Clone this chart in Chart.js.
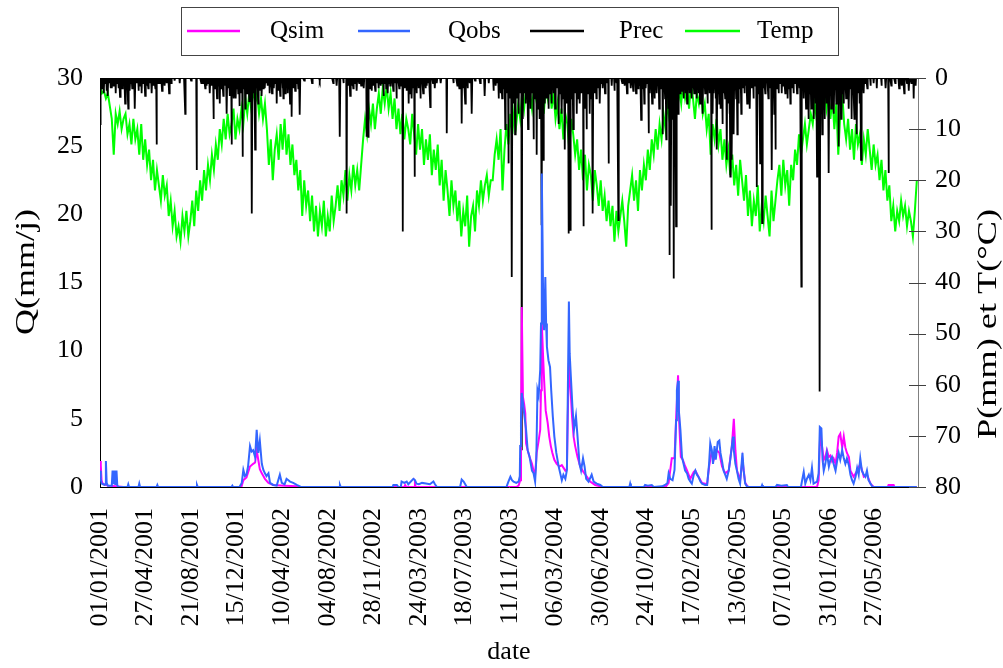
<!DOCTYPE html>
<html>
<head>
<meta charset="utf-8">
<script src="https://cdn.jsdelivr.net/npm/chart.js@4.4.0/dist/chart.umd.min.js"></script>
<style>
html,body{margin:0;padding:0;background:#fff;}
#wrap{width:1003px;height:668px;}
</style>
</head>
<body>
<div id="wrap"><canvas id="c" width="1003" height="668"></canvas></div>
<script>
// ---------- DATA ----------
const tickLabels = ['01/01/2001','27/04/2001','21/08/2001','15/12/2001','10/04/2002','04/08/2002','28/11/2002','24/03/2003','18/07/2003','11/11/2003','06/03/2004','30/06/2004','24/10/2004','17/02/2005','13/06/2005','07/10/2005','31/01/2006','27/05/2006'];
const tickStepDays = 116;
const lastDay = 2083;
const tempStepDays = 5;

// Temperature (°C), one value every 5 days starting 01/01/2001
const tempC = [
1.5,3,2.5,4,3,5.5,8,15,7,9,6.5,10,8,7,11,9,13,8,12,10,
15,9,16,12,17,14,20,16,22,18,21,24,19,23,21,27,24,29,26,31,
29,32,27,30,26,31,28,24,29,22,26,20,24,18,22,17,20,15,18,13,
16,10,13,8,12,7,11,9,6,12,8,10,6,9,4,7,3,6,2,5,
3,7,4,8,5,10,17,12,20,14,11,16,9,14,8,15,11,17,13,19,
16,22,18,27,20,25,22,28,23,30,25,31,26,29,24,31,27,30,23,28,
25,21,26,20,23,18,24,19,22,17,21,18,22,17,12,8,11,6,9,5,
10,6,3,7,2,5,1.5,6,3,8,4,10,6,11,7,12,8,10,13,7,
11,15,9,14,10,17,12,16,11,19,14,18,13,21,16,24,18,22,27,20,
25,22,28,24,31,26,29,23,33,27,25,30,22,25,20,24,21,19,23,20,
20,15,12,16,10,22,14,9,13,7,11,6,9,5,8,3,6,2,5,3,
6,2,4,1,5,3,7,2,4,0.5,6,3,8,5,10,6,12,7,9,14,
8,11,15,12,18,14,20,15,22,17,19,24,18,21,25,20,26,23,28,24,
29,25,32,26,30,27,24,28,33,25,22,19,24,20,26,18,22,17,20,14,
18,12,15,10,14,9,12,7,10,5,8,4,6,3,7,2,5,0.5,4,2,
6,1,4,8,3,5,2,7,5,10,7,15,9,12,8,13,10,16,12,17,
14,19,15,21,17,23,16,20,24,19,27,22,29,24,27,21,30,25,28,23,
27,31,22,28,24,20,17,23,16,21,18,25,17,20,14,17,11,15,12,9,
13,10,7,9,5,8,3,0.5,4,2,6,3,8,4,10,5,15,7,3,9,
12,8,14,10,16,9,13,11,17,12,15,10,14,18,13,17,15,20,16,22,
18,24,21,28,25,30,26,28,24,27,25,29,26,28,31,26,20
];

// Rainy days: [day index, mm]; all other days are dry (0 mm)
const precRain = [
[0,9],[3,2],[6,1.5],[10,3],[13,1],[17,2.5],[20,3.5],[24,1],[27,2],[30,2],[34,1.5],[40,3],[44,1],[47,2],[51,3.7],[54,1.5],[57,2],[61,1],[64,5],[68,2],[72,6],[76,2.5],[79,1],[82,2],[86,1.5],[89,6],[93,1],[98,2.5],[102,1.5],[106,3],[110,1],[115,3.5],[119,1.5],[123,2],[127,1],[132,3],[137,1.5],[141,2],[144,13],[148,1],[153,1],[158,2.5],[162,1],[165,1.5],[170,1],[176,3],[181,1],[190,0.5],[203,1],[217,7],[232,0.5],[246,18],[258,1],[263,1],[268,2],[272,1.5],[276,1],[280,3],[284,1.5],[289,8],[293,2],[298,4],[301,1.5],[305,5],[309,2],[314,3.5],[318,1.5],[323,7],[327,2],[331,3.5],[335,13],[339,2],[341,4],[344,1.5],[346,4],[349,2],[352,3],[355,5.5],[358,3],[363,15.4],[367,2],[370,6],[373,1.5],[375,3],[378,1.5],[380,4.5],[384,2],[387,26.5],[391,3],[395,14],[399,2],[403,5],[407,2.5],[409,1],[412,3.5],[416,2],[420,2],[424,1],[427,1.5],[432,3],[435,1],[438,3],[443,2],[446,1],[450,5],[455,2.5],[459,3.5],[462,1],[465,2],[467,4],[472,3],[475,1],[478,3],[481,1.5],[484,5],[488,7.6],[493,2],[497,2.5],[502,1],[505,2],[509,7.2],[520,0.5],[540,1],[560,0.5],[594,1],[603,1.5],[611,11.5],[620,1],[628,26.5],[633,1.5],[637,3.5],[641,1.5],[645,2],[650,1],[654,2.5],[660,1],[665,1.5],[672,2],[679,11.5],[683,11.5],[688,2],[692,2.5],[697,1.5],[701,2.5],[705,1],[710,2],[715,1.5],[719,1],[722,3.5],[726,1],[729,2],[733,3],[736,1],[739,1.5],[743,1],[747,2.5],[751,1],[755,4],[758,1],[762,2],[767,1.5],[771,30],[776,2],[781,2.5],[783,1],[786,5],[790,3],[794,4],[797,2],[801,19.3],[806,3],[811,2],[816,4],[819,1],[823,3],[829,2],[832,1.5],[837,1],[841,5.7],[848,1],[853,2],[858,1],[868,1],[883,10.8],[900,1],[910,1.5],[915,2],[921,8.9],[926,2],[930,5],[936,2],[941,1],[947,7],[955,0.5],[968,1],[980,3.5],[990,1],[1002,2.5],[1008,1.5],[1012,1],[1015,4],[1018,1.5],
[1021,3],[1024,4],[1027,2],[1030,1],[1032,10],[1036,3],[1040,16.7],[1043,4],[1046,2],[1049,38.9],[1053,5],[1055,2],[1057,11],[1059,2],[1061,4],[1064,1.5],[1066,7],[1069,3],[1074,72.8],[1077,8],[1079,2],[1081,3],[1084,5],[1087,2],[1090,10],[1092,2],[1094,4],[1097,6],[1100,3],[1102,1.5],[1104,12],[1106,2],[1108,4],[1110,2],[1112,15],[1114,3],[1116,6],[1119,8],[1122,3],[1125,28.8],[1127,4],[1129,16],[1131,2],[1133,5],[1136,2],[1138,4],[1140,1.5],[1142,6],[1144,2],[1146,3],[1148,1],[1150,5],[1153,2],[1155,3],[1157,1.5],[1159,6],[1163,2],[1165,1],[1168,9],[1170,2],[1172,3],[1174,1],[1176,7],[1178,2],[1180,4],[1182,1.5],[1184,14],[1186,2],[1188,5],[1190,2],[1193,30.4],[1195,3],[1197,29.7],[1200,4],[1202,2],[1205,10],[1207,2],[1209,3],[1212,1.5],[1214,7],[1216,2],[1218,4],[1220,1.5],[1222,5],[1224,2],[1226,3],[1228,1],[1231,29],[1233,3],[1235,6],[1237,2],[1239,10],[1241,2],[1243,3],[1245,1],[1247,7],[1249,2],[1251,4],[1253,2],[1255,26.5],[1257,2],[1259,3],[1262,1],[1264,4],[1268,2],[1273,5],[1276,1],[1280,2],[1286,3],[1290,1],[1295,16.7],[1303,1.5],[1310,2.5],[1315,1],[1320,27.8],[1330,1],[1336,1.5],[1342,3],[1347,1],[1352,2],[1358,2.5],[1361,1],
[1365,3],[1370,2],[1374,1.5],[1378,8.2],[1381,2],[1384,1],[1386,5],[1390,2],[1393,1],[1397,10.8],[1400,3],[1403,1.5],[1406,5],[1409,2],[1412,4],[1415,1.5],[1418,3],[1421,1],[1424,6],[1427,2],[1430,1],[1433,11],[1436,2],[1439,4],[1442,12],[1445,3],[1448,6],[1450,34.6],[1452,5],[1454,25],[1457,8],[1459,3],[1461,39.2],[1464,4],[1467,29],[1469,3],[1472,7],[1474,2],[1477,3],[1480,1.5],[1483,2.5],[1486,4],[1489,1],[1492,3],[1495,5],[1498,2],[1501,3],[1504,1.5],[1507,4],[1510,2],[1513,3],[1516,1],[1519,4],[1522,2],[1525,3],[1528,5],[1531,1.5],[1535,7],[1538,2],[1541,3],[1544,1],[1547,5],[1550,2],[1553,3],[1557,29.7],[1560,7],[1563,3],[1566,2],[1568,4],[1571,14],[1574,3],[1577,5],[1580,6],[1582,2],[1585,9],[1588,3],[1592,4],[1594,2],[1596,16],[1598,5],[1601,3],[1603,7],[1605,19.3],[1607,4],[1609,16],[1612,3],[1614,11],[1617,2],[1620,4],[1623,11],[1626,5],[1630,2],[1633,7],[1637,2],[1641,3],[1645,1.5],[1648,5],[1652,2],[1655,6],[1660,2],[1664,4],[1668,1.5],[1673,21.3],[1676,3],[1681,16.7],[1684,3],[1686,28.4],[1690,2],[1694,3],[1698,1],[1702,4],[1706,2],
[1711,18],[1714,3],[1717,7],[1720,14],[1724,2],[1728,3],[1732,1],[1736,3],[1740,1.5],[1745,3],[1748,1],[1751,4],[1755,2],[1758,5],[1762,2],[1766,3],[1770,1],[1775,3],[1778,1],[1782,2],[1786,40.8],[1789,2],[1792,4],[1795,1.5],[1798,6],[1801,2],[1805,8],[1808,3],[1811,6],[1814,2],[1817,8],[1820,3],[1823,5],[1826,19.3],[1829,4],[1831,8],[1833,61.3],[1836,4],[1839,11],[1842,3],[1845,8],[1848,2],[1851,5],[1853,3],[1856,18.6],[1859,3],[1862,6],[1865,2],[1869,7],[1872,2],[1875,5],[1878,3],[1881,13.4],[1884,2],[1887,8],[1890,3],[1894,5],[1897,2],[1900,4],[1903,2],[1907,6],[1910,2],[1914,8],[1917,3],[1921,8],[1924,2],[1927,11],[1930,3],[1934,5],[1938,16],[1941,2],[1945,3],[1949,1],[1954,2],[1962,1.5],[1970,1],[1978,2],[1990,1.5],[2001,2],[2008,18.6],[2015,1.5],[2025,1],[2035,2],[2042,1.5],[2048,3],[2055,1],[2060,2.5],[2066,1],[2072,4],[2077,1.5]
];

// Observed discharge (mm/j): [day index, value]
const qobsPts = [
[0,1.2],[2,0.6],[4,0.25],[8,0.2],[12,0.15],[14,0.2],[15,1.9],[17,0.3],[20,0.1],[30,0.1],[32,1.2],[34,0.2],[37,1.2],[39,0.15],[42,1.2],[44,0.1],[48,0],[70,0],[72,0.2],[74,0],[98,0],[100,0.25],[102,0],[144,0],[146,0.15],[148,0],[245,0],[247,0.15],[249,0],[335,0],[337,0.1],[339,0],
[355,0],[361,0.3],[365,1.25],[369,0.8],[373,0.9],[377,1.5],[382,3.0],[386,2.6],[390,2.7],[395,2.2],[399,4.2],[403,2.5],[407,3.4],[412,1.7],[416,1.25],[420,1.0],[424,0.8],[429,1.0],[433,0.3],[441,0.15],[450,0.1],[458,0.9],[463,0.3],[470,0.2],[475,0.6],[484,0.4],[492,0.3],[501,0.15],[509,0.05],[512,0],[609,0],[611,0.15],[613,0],
[745,0],[747,0.15],[756,0.15],[760,0],[766,0],[768,0.4],[775,0.3],[781,0.4],[785,0.2],[798,0.6],[802,0.5],[806,0.25],[812,0.2],[820,0.3],[830,0.25],[840,0.2],[849,0.4],[853,0.2],[858,0],[917,0],[921,0.55],[926,0.4],[930,0.2],[934,0],
[1035,0],[1040,0.4],[1045,0.75],[1049,0.5],[1053,0.4],[1060,0.3],[1066,0.4],[1069,0.8],[1070,3.0],[1072,5.0],[1074,6.9],[1077,6.2],[1080,5.4],[1085,4.2],[1089,2.7],[1094,2.2],[1100,1.2],[1104,1.0],[1108,0.4],[1111,2.0],[1114,7.1],[1117,6.7],[1121,8.6],[1123,12],[1125,23],[1127,18],[1129,12],[1131,11.5],[1134,15.4],[1136,12],[1138,10.3],[1142,9.3],[1146,8.8],[1149,7.1],[1153,5.2],[1157,3.7],[1162,2.5],[1168,1.5],[1172,1.0],[1176,0.5],[1180,0.9],[1185,0.6],[1189,1.25],[1191,6.1],[1194,13.6],[1196,9.8],[1199,8.1],[1203,5.9],[1207,4.2],[1212,5.2],[1216,3.7],[1221,1.7],[1225,1.2],[1230,2.1],[1234,1.5],[1238,0.6],[1244,0.4],[1252,0.9],[1257,0.4],[1265,0.25],[1274,0.15],[1280,0],[1348,0],[1350,0.25],[1352,0],
[1385,0],[1388,0.15],[1395,0.1],[1405,0.15],[1410,0],[1431,0.05],[1439,0.15],[1445,0.3],[1448,1.0],[1452,0.6],[1458,0.5],[1463,1.25],[1467,4.9],[1469,7.1],[1472,7.8],[1474,5.6],[1478,4.2],[1482,2.2],[1486,1.7],[1490,1.2],[1495,1.0],[1499,0.6],[1503,0.4],[1507,0.25],[1512,0.9],[1516,1.2],[1520,0.9],[1524,0.75],[1529,0.4],[1533,0.25],[1541,0.15],[1546,0.15],[1551,1.7],[1554,3.2],[1558,2.7],[1561,1.7],[1565,3.0],[1568,2.0],[1573,3.3],[1577,3.4],[1580,2.5],[1584,1.9],[1588,1.2],[1592,0.9],[1596,0.6],[1601,1.2],[1605,2.0],[1609,3.0],[1612,3.7],[1614,2.7],[1618,1.7],[1622,1.2],[1626,0.6],[1630,0.25],[1636,2.5],[1639,1.2],[1643,0.25],[1647,0.05],[1652,0],[1684,0],[1686,0.15],[1688,0],
[1720,0],[1724,0.15],[1735,0.1],[1749,0.15],[1752,0],[1785,0],[1788,0.5],[1792,1.1],[1796,0.25],[1800,0.6],[1805,0.9],[1809,0.5],[1813,1.4],[1817,0.25],[1826,0.4],[1830,1.0],[1833,4.4],[1837,4.3],[1840,2.0],[1843,1.2],[1847,1.7],[1851,2.5],[1856,1.5],[1860,2.0],[1864,2.2],[1868,1.7],[1873,1.2],[1877,1.9],[1881,2.5],[1885,2.0],[1890,2.7],[1894,2.1],[1898,1.7],[1902,2.1],[1907,1.6],[1911,0.9],[1915,0.5],[1919,0.25],[1924,0.75],[1928,1.4],[1932,0.9],[1936,2.1],[1940,1.2],[1945,0.9],[1949,0.75],[1953,1.2],[1957,0.5],[1962,0.25],[1966,0.05],[1970,0],[2080,0]
];

// Simulated discharge (mm/j): [day index, value]
const qsimPts = [
[0,1.9],[2,1.6],[4,0.5],[6,0.3],[10,0.2],[20,0.1],[40,0.05],[60,0],
[360,0],[365,0.5],[373,0.7],[382,1.5],[390,1.7],[395,1.8],[399,2.7],[403,2.0],[407,1.3],[412,1.0],[416,0.8],[420,0.6],[429,0.3],[441,0.15],[470,0.1],[501,0.05],[509,0],
[775,0],[777,0.15],[780,0],[800,0],[802,0.2],[804,0],
[1060,0],[1066,0.1],[1070,0.5],[1072,3.0],[1074,13.2],[1077,6.6],[1080,6.1],[1083,5.4],[1085,3.2],[1089,2.7],[1094,2.2],[1100,1.7],[1104,1.2],[1108,0.9],[1112,2.5],[1117,3.4],[1121,4.2],[1123,7.1],[1125,12],[1128,9.8],[1131,7.8],[1135,5.6],[1140,4.7],[1144,3.7],[1148,3.0],[1152,2.5],[1157,2.0],[1163,1.7],[1170,1.5],[1176,1.6],[1185,1.2],[1189,1.3],[1191,4.9],[1194,9.1],[1197,7.8],[1202,5.2],[1206,3.7],[1210,3.0],[1216,2.2],[1223,1.5],[1231,1.1],[1240,0.75],[1248,0.4],[1261,0.15],[1274,0.05],[1280,0],
[1440,0],[1448,0.3],[1456,2.1],[1463,2.1],[1467,5.0],[1472,8.2],[1475,4.7],[1479,2.2],[1484,2.0],[1489,1.6],[1495,1.2],[1503,0.6],[1512,1.1],[1516,1.2],[1524,0.75],[1533,0.3],[1546,0.2],[1551,1.5],[1557,2.5],[1563,2.0],[1571,2.7],[1577,2.5],[1584,1.5],[1592,1.0],[1601,1.2],[1609,3.0],[1614,5.0],[1618,2.7],[1622,1.2],[1630,0.5],[1636,2.0],[1643,0.3],[1650,0],
[1826,0],[1830,0.5],[1834,3.9],[1839,2.9],[1843,2.0],[1847,2.2],[1851,2.7],[1856,2.2],[1860,2.3],[1864,1.9],[1868,2.1],[1873,1.7],[1877,2.5],[1881,3.7],[1885,3.9],[1890,2.9],[1894,3.7],[1898,2.9],[1902,2.5],[1907,2.2],[1911,1.2],[1919,0.75],[1928,1.2],[1936,1.7],[1945,0.75],[1953,0.9],[1962,0.25],[1970,0],[2006,0],[2008,0.15],[2021,0.15],[2023,0],[2080,0]
];

// ---------- BUILD ----------
const nDays = (tempC.length - 1) * tempStepDays + 1;
const precDaily = new Array(nDays).fill(0);
precRain.forEach(([d, mm]) => { precDaily[d] = mm; });
const precData = precDaily.map((v, d) => ({x: d, y: v}));
const tempData = tempC.map((v, i) => ({x: i * tempStepDays, y: v}));
const qobsData = qobsPts.map(([d, v]) => ({x: d, y: v}));
const qsimData = qsimPts.map(([d, v]) => ({x: d, y: v}));
const tickDays = tickLabels.map((_, i) => i * tickStepDays);

const SERIF = "'Liberation Serif', 'Times New Roman', serif";
Chart.defaults.font.family = SERIF;
Chart.defaults.color = '#000';

// text centred at (x,y), rotated, stretched along its direction to a target length
function stretchedText(ctx, text, x, y, rot, size, targetLen) {
  ctx.save();
  ctx.translate(x, y);
  ctx.rotate(rot);
  ctx.font = size + 'px ' + SERIF;
  const w = ctx.measureText(text).width;
  const sx = targetLen ? targetLen / w : 1;
  ctx.scale(sx, 1);
  ctx.fillStyle = '#000';
  ctx.textAlign = 'center';
  ctx.textBaseline = 'middle';
  ctx.fillText(text, 0, 0);
  ctx.restore();
}

const decor = {
  id: 'decor',
  beforeDatasetsDraw(chart) {
    const {ctx, chartArea: a} = chart;
    ctx.save();
    ctx.strokeStyle = '#000';
    ctx.lineWidth = 1;
    ctx.beginPath();
    ctx.moveTo(a.left, a.top + 0.5);
    ctx.lineTo(a.right, a.top + 0.5);
    ctx.stroke();
    ctx.restore();
  },
  afterDraw(chart) {
    const {ctx, chartArea: a} = chart;
    const s2 = chart.scales.y2;
    ctx.save();
    ctx.strokeStyle = '#404040';
    ctx.lineWidth = 1;
    s2.ticks.forEach(t => {
      const y = Math.round(s2.getPixelForValue(t.value)) + 0.5;
      ctx.beginPath();
      ctx.moveTo(a.right - 9, y);
      ctx.lineTo(a.right + 8, y);
      ctx.stroke();
    });
    ctx.restore();
    // axis titles
    stretchedText(ctx, 'Q(mm/j)', 27, 272, -Math.PI / 2, 27, 126);
    stretchedText(ctx, 'P(mm) et T(°C)', 989, 324, -Math.PI / 2, 27, 230);
    stretchedText(ctx, 'date', 509, 652, 0, 26, 0);
    // legend
    ctx.save();
    ctx.fillStyle = '#fff';
    ctx.fillRect(181, 7, 657, 48);
    ctx.strokeStyle = '#444';
    ctx.lineWidth = 1;
    ctx.strokeRect(181.5, 7.5, 657, 48);
    const lineX = [[187, 240], [358, 410], [530, 584], [685, 740]];
    const textX = [270, 448, 619, 757];
    const ly = 31;
    [0, 1, 2, 3].forEach((di, k) => {
      const ds = chart.data.datasets[di];
      ctx.strokeStyle = ds.borderColor;
      ctx.lineWidth = 2.5;
      ctx.beginPath();
      ctx.moveTo(lineX[k][0], ly);
      ctx.lineTo(lineX[k][1], ly);
      ctx.stroke();
      ctx.fillStyle = '#000';
      ctx.font = '25px ' + SERIF;
      ctx.textAlign = 'left';
      ctx.textBaseline = 'middle';
      ctx.fillText(ds.label, textX[k], ly);
    });
    ctx.restore();
  }
};

new Chart(document.getElementById('c'), {
  type: 'line',
  data: {
    datasets: [
      {label: 'Qsim', data: qsimData, yAxisID: 'y', borderColor: '#FF00FF', borderWidth: 2, order: 2},
      {label: 'Qobs', data: qobsData, yAxisID: 'y', borderColor: '#3366FF', borderWidth: 2, order: 1},
      {label: 'Prec', data: precData, yAxisID: 'y2', borderColor: '#000000', borderWidth: 1.8, order: 3},
      {label: 'Temp', data: tempData, yAxisID: 'y2', borderColor: '#00FF00', borderWidth: 2, order: 4}
    ]
  },
  options: {
    responsive: false,
    animation: false,
    elements: {point: {radius: 0, hoverRadius: 0}, line: {tension: 0, fill: false, borderJoinStyle: 'miter'}},
    layout: {padding: {top: 78, left: 0, right: 0, bottom: 0}},
    plugins: {legend: {display: false}, tooltip: {enabled: false}, title: {display: false}},
    events: [],
    scales: {
      x: {
        type: 'linear', position: 'bottom', min: 0, max: lastDay,
        afterFit(s) { s.height = 181; },
        afterBuildTicks(s) { s.ticks = tickDays.map(v => ({value: v})); },
        grid: {display: false, drawTicks: false},
        border: {display: true, color: '#000', width: 1},
        ticks: {
          autoSkip: false, minRotation: 90, maxRotation: 90, padding: 21,
          font: {size: 26, family: SERIF}, color: '#000',
          callback: (v, i) => tickLabels[i]
        }
      },
      y: {
        type: 'linear', position: 'left', min: 0, max: 30,
        afterFit(s) { s.width = 100; },
        grid: {display: false, drawTicks: false},
        border: {display: true, color: '#000', width: 1},
        ticks: {stepSize: 5, padding: 17, font: {size: 26, family: SERIF}, color: '#000'}
      },
      y2: {
        type: 'linear', position: 'right', min: 0, max: 80, reverse: true,
        afterFit(s) { s.width = 85; },
        grid: {display: false, drawTicks: false},
        border: {display: true, color: '#808080', width: 1},
        ticks: {stepSize: 10, padding: 17, font: {size: 26, family: SERIF}, color: '#000'}
      }
    }
  },
  plugins: [decor]
});
</script>
</body>
</html>
